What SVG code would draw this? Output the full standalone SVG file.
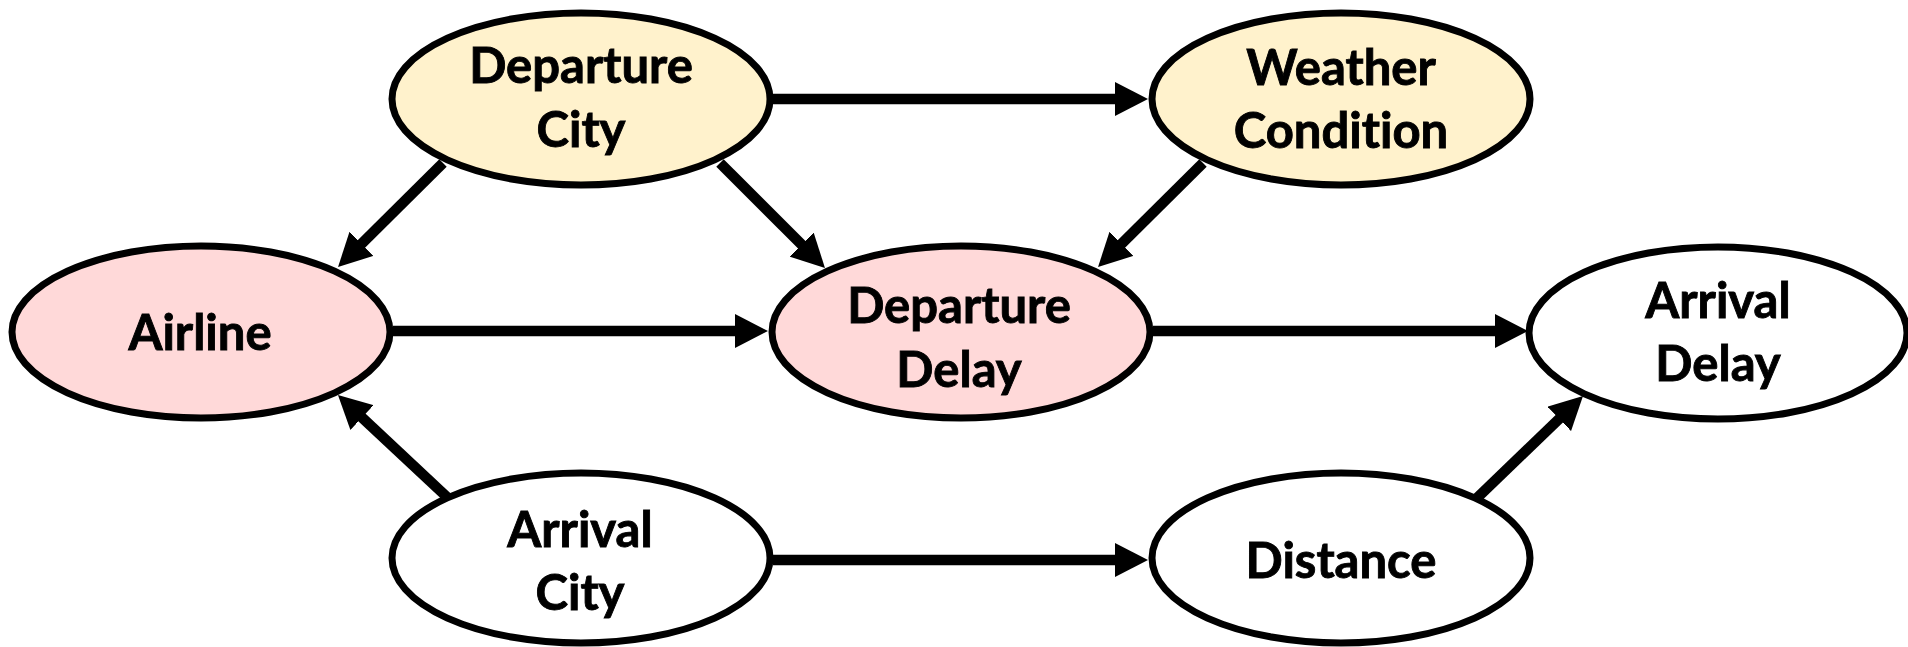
<svg xmlns="http://www.w3.org/2000/svg" width="1908" height="647" viewBox="0 0 1908 647">
  <style>
    .node { stroke: #000; stroke-width: 7; }
    .cause { fill: #FFF2CC; }
    .treat { fill: #FFD9D9; }
    .plain { fill: #FFFFFF; }
    .label { font-family: Lato, "Liberation Sans", sans-serif; font-weight: 700; font-size: 49px; fill: #000; stroke: #000; stroke-width: 0.9; text-anchor: middle; font-variant-ligatures: none; }
    .edge { stroke: #000; stroke-width: 10.5; fill: none; marker-end: url(#arrow); }
  </style>
  <defs>
    <marker id="arrow" markerUnits="userSpaceOnUse" markerWidth="34" markerHeight="34" refX="8" refY="17" orient="auto" viewBox="0 0 34 34">
      <path d="M0,0 L33,17 L0,34 Z" fill="#000"/>
    </marker>
  </defs>
  <rect width="1908" height="647" fill="#FFFFFF"/>

  <g id="connectors">
    <line class="edge" x1="773" y1="99" x2="1123" y2="99"/>
    <line class="edge" x1="443" y1="163" x2="355.8" y2="249.4"/>
    <line class="edge" x1="720" y1="163" x2="807.3" y2="250.3"/>
    <line class="edge" x1="1203" y1="163" x2="1115.8" y2="249.4"/>
    <line class="edge" x1="393" y1="331" x2="743" y2="331"/>
    <line class="edge" x1="1153" y1="331" x2="1503" y2="331"/>
    <line class="edge" x1="448" y1="498" x2="356.2" y2="412.1"/>
    <line class="edge" x1="773" y1="560" x2="1123" y2="560"/>
    <line class="edge" x1="1477" y1="498" x2="1565" y2="413.3"/>
  </g>

  <g id="departure-city">
    <ellipse class="node cause" cx="581" cy="99" rx="189" ry="86"/>
    <text class="label" x="581" y="83">Departure</text>
    <text class="label" x="581" y="147">City</text>
  </g>
  <g id="weather-condition">
    <ellipse class="node cause" cx="1341" cy="99" rx="189" ry="86"/>
    <text class="label" x="1341" y="85">Weather</text>
    <text class="label" x="1341" y="148">Condition</text>
  </g>
  <g id="airline">
    <ellipse class="node treat" cx="201" cy="332" rx="189" ry="86"/>
    <text class="label" x="200" y="350">Airline</text>
  </g>
  <g id="departure-delay">
    <ellipse class="node treat" cx="961" cy="332" rx="189" ry="86"/>
    <text class="label" x="959" y="323">Departure</text>
    <text class="label" x="959" y="387">Delay</text>
  </g>
  <g id="arrival-delay">
    <ellipse class="node plain" cx="1718" cy="333" rx="189" ry="86"/>
    <text class="label" x="1718" y="318">Arrival</text>
    <text class="label" x="1718" y="381">Delay</text>
  </g>
  <g id="arrival-city">
    <ellipse class="node plain" cx="581" cy="558" rx="189" ry="85"/>
    <text class="label" x="580" y="547">Arrival</text>
    <text class="label" x="580" y="610">City</text>
  </g>
  <g id="distance">
    <ellipse class="node plain" cx="1341" cy="558" rx="189" ry="85"/>
    <text class="label" x="1341" y="578">Distance</text>
  </g>
</svg>
